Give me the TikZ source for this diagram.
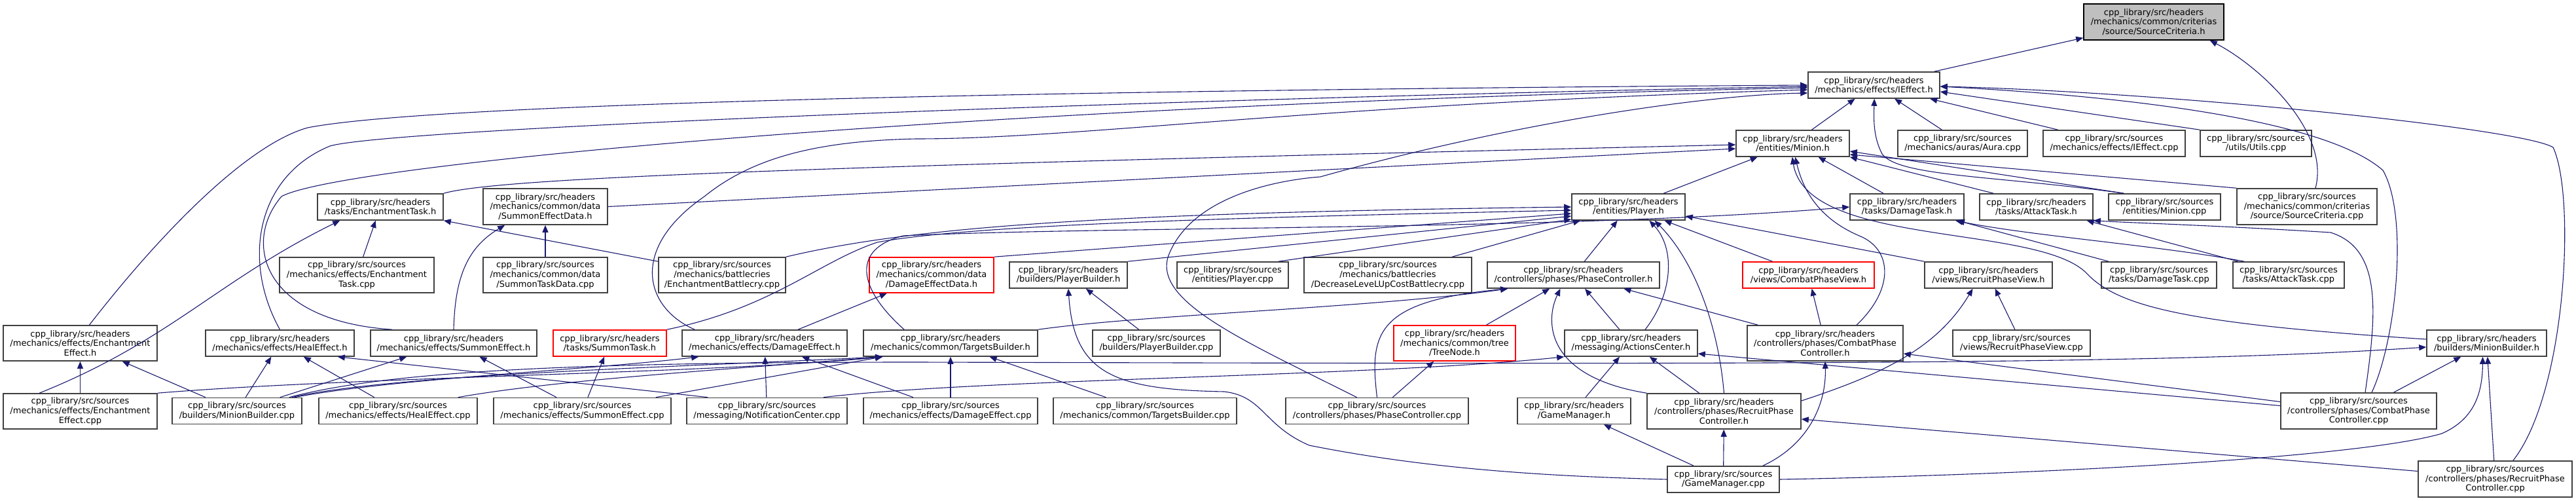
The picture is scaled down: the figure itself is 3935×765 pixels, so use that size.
\documentclass[tikz,border=0pt]{standalone}
\usepackage{fontspec}
\setmainfont{DejaVu Sans}
\usetikzlibrary{arrows.meta}
\definecolor{edgeblue}{HTML}{191970}
\definecolor{rootgray}{HTML}{BFBFBF}
\tikzset{>={Triangle[length=5.5pt,width=4.5pt]},every node/.style={font=\fontsize{6.5}{7.3}\selectfont},
file/.style={draw=black!75,line width=0.8pt,fill=white,align=center,inner sep=1pt,minimum height=20pt},
trunc/.style={file,draw=red},root/.style={file,draw=black,fill=rootgray},
flow/.style={->,draw=edgeblue,line width=0.55pt}}
\begin{document}
\begin{tikzpicture}[x=0.5pt,y=-0.5pt]
\useasboundingbox (0,0) rectangle (3935,765);
\node[root,minimum width=107pt,minimum height=27.5pt] (srcCritH) at (3290,33.5) {cpp\_library/src/headers\\/mechanics/common/criterias\\/source/SourceCriteria.h};
\node[file,minimum width=100.5pt] (iEffectH) at (2862.5,130) {cpp\_library/src/headers\\/mechanics/effects/IEffect.h};
\node[file,minimum width=86.5pt] (minionH) at (2738.5,219) {cpp\_library/src/headers\\/entities/Minion.h};
\node[file,minimum width=99pt] (auraCpp) at (2998,219) {cpp\_library/src/sources\\/mechanics/auras/Aura.cpp};
\node[file,minimum width=108.5pt] (iEffectCpp) at (3229.5,219) {cpp\_library/src/sources\\/mechanics/effects/IEffect.cpp};
\node[file,minimum width=85pt] (utilsCpp) at (3446,219) {cpp\_library/src/sources\\/utils/Utils.cpp};
\node[file,minimum width=96pt] (enchTaskH) at (581,316) {cpp\_library/src/headers\\/tasks/EnchantmentTask.h};
\node[file,minimum width=95pt,minimum height=27.5pt] (summonDataH) at (833,315.5) {cpp\_library/src/headers\\/mechanics/common/data\\/SummonEffectData.h};
\node[file,minimum width=86.5pt] (playerH) at (2487.5,316) {cpp\_library/src/headers\\/entities/Player.h};
\node[file,minimum width=87pt] (damageTaskH) at (2913,316) {cpp\_library/src/headers\\/tasks/DamageTask.h};
\node[file,minimum width=86.5pt] (attackTaskH) at (3110.5,316) {cpp\_library/src/headers\\/tasks/AttackTask.h};
\node[file,minimum width=85.5pt] (minionCpp) at (3306.5,316) {cpp\_library/src/sources\\/entities/Minion.cpp};
\node[file,minimum width=107pt,minimum height=27.5pt] (srcCritCpp) at (3524,315.5) {cpp\_library/src/sources\\/mechanics/common/criterias\\/source/SourceCriteria.cpp};
\node[file,minimum width=118pt,minimum height=27pt] (enchTaskCpp) at (545,420) {cpp\_library/src/sources\\/mechanics/effects/Enchantment\\Task.cpp};
\node[file,minimum width=95pt,minimum height=27pt] (summonDataCpp) at (833,420) {cpp\_library/src/sources\\/mechanics/common/data\\/SummonTaskData.cpp};
\node[file,minimum width=97pt,minimum height=27pt] (enchBattleCpp) at (1103,420) {cpp\_library/src/sources\\/mechanics/battlecries\\/EnchantmentBattlecry.cpp};
\node[trunc,minimum width=95pt,minimum height=27pt] (damageDataH) at (1423,420) {cpp\_library/src/headers\\/mechanics/common/data\\/DamageEffectData.h};
\node[file,minimum width=90pt] (playerBuilderH) at (1632,420) {cpp\_library/src/headers\\/builders/PlayerBuilder.h};
\node[file,minimum width=85pt] (playerCpp) at (1883,420) {cpp\_library/src/sources\\/entities/Player.cpp};
\node[file,minimum width=128pt,minimum height=27pt] (decrBattleCpp) at (2120,420) {cpp\_library/src/sources\\/mechanics/battlecries\\/DecreaseLeveLUpCostBattlecry.cpp};
\node[file,minimum width=131.5pt] (phaseCtrlH) at (2403.5,420) {cpp\_library/src/headers\\/controllers/phases/PhaseController.h};
\node[trunc,minimum width=100.5pt] (combatViewH) at (2762.5,420) {cpp\_library/src/headers\\/views/CombatPhaseView.h};
\node[file,minimum width=97.5pt] (recruitViewH) at (3037.5,420) {cpp\_library/src/headers\\/views/RecruitPhaseView.h};
\node[file,minimum width=88pt] (damageTaskCpp) at (3298,420) {cpp\_library/src/sources\\/tasks/DamageTask.cpp};
\node[file,minimum width=85pt] (attackTaskCpp) at (3496,420) {cpp\_library/src/sources\\/tasks/AttackTask.cpp};
\node[file,minimum width=117.5pt,minimum height=27pt] (enchEffectH) at (122.5,524) {cpp\_library/src/headers\\/mechanics/effects/Enchantment\\Effect.h};
\node[file,minimum width=113.5pt] (healEffectH) at (427.5,524) {cpp\_library/src/headers\\/mechanics/effects/HealEffect.h};
\node[file,minimum width=127pt] (summonEffectH) at (693,524) {cpp\_library/src/headers\\/mechanics/effects/SummonEffect.h};
\node[trunc,minimum width=86.5pt] (summonTaskH) at (931.5,524) {cpp\_library/src/headers\\/tasks/SummonTask.h};
\node[file,minimum width=126pt] (damageEffectH) at (1168,524) {cpp\_library/src/headers\\/mechanics/effects/DamageEffect.h};
\node[file,minimum width=133pt] (targetsH) at (1452,524) {cpp\_library/src/headers\\/mechanics/common/TargetsBuilder.h};
\node[file,minimum width=97.5pt] (playerBuilderCpp) at (1766.5,524) {cpp\_library/src/sources\\/builders/PlayerBuilder.cpp};
\node[trunc,minimum width=93pt,minimum height=27pt] (treeNodeH) at (2222,524) {cpp\_library/src/headers\\/mechanics/common/tree\\/TreeNode.h};
\node[file,minimum width=101.5pt] (actionsH) at (2491.5,524) {cpp\_library/src/headers\\/messaging/ActionsCenter.h};
\node[file,minimum width=119pt,minimum height=27pt] (combatCtrlH) at (2788,524) {cpp\_library/src/headers\\/controllers/phases/CombatPhase\\Controller.h};
\node[file,minimum width=105pt] (recruitViewCpp) at (3088,524) {cpp\_library/src/sources\\/views/RecruitPhaseView.cpp};
\node[file,minimum width=91.5pt] (minionBuilderH) at (3798.5,524) {cpp\_library/src/headers\\/builders/MinionBuilder.h};
\node[file,minimum width=117.5pt,minimum height=27pt] (enchEffectCpp) at (122.5,628) {cpp\_library/src/sources\\/mechanics/effects/Enchantment\\Effect.cpp};
\node[file,minimum width=99pt] (minionBuilderCpp) at (362,627.5) {cpp\_library/src/sources\\/builders/MinionBuilder.cpp};
\node[file,minimum width=121pt] (healEffectCpp) at (608,627.5) {cpp\_library/src/sources\\/mechanics/effects/HealEffect.cpp};
\node[file,minimum width=135.5pt] (summonEffectCpp) at (889.5,627.5) {cpp\_library/src/sources\\/mechanics/effects/SummonEffect.cpp};
\node[file,minimum width=122.5pt] (notifCpp) at (1171.5,627.5) {cpp\_library/src/sources\\/messaging/NotificationCenter.cpp};
\node[file,minimum width=133pt] (damageEffectCpp) at (1452,627.5) {cpp\_library/src/sources\\/mechanics/effects/DamageEffect.cpp};
\node[file,minimum width=140pt] (targetsCpp) at (1749,627.5) {cpp\_library/src/sources\\/mechanics/common/TargetsBuilder.cpp};
\node[file,minimum width=139.5pt] (phaseCtrlCpp) at (2103.5,627.5) {cpp\_library/src/sources\\/controllers/phases/PhaseController.cpp};
\node[file,minimum width=86.5pt] (gameManagerH) at (2404.5,627.5) {cpp\_library/src/headers\\/GameManager.h};
\node[file,minimum width=117.5pt,minimum height=27pt] (recruitCtrlH) at (2633.5,628) {cpp\_library/src/headers\\/controllers/phases/RecruitPhase\\Controller.h};
\node[file,minimum width=119pt,minimum height=27.5pt] (combatCtrlCpp) at (3603,627.5) {cpp\_library/src/sources\\/controllers/phases/CombatPhase\\Controller.cpp};
\node[file,minimum width=85.5pt] (gameManagerCpp) at (2632.5,732) {cpp\_library/src/sources\\/GameManager.cpp};
\node[file,minimum width=117.5pt,minimum height=27.5pt] (recruitCtrlCpp) at (3811.5,731.5) {cpp\_library/src/sources\\/controllers/phases/RecruitPhase\\Controller.cpp};
% SourceCriteria.h and IEffect.h
\draw[flow] (iEffectH) -- (srcCritH);
\draw[flow] ([xshift=6.5pt]srcCritCpp.north) .. controls (3560,200) and (3450,100) .. ([xshift=-11pt]srcCritH.south east);
\draw[flow] (minionH) -- (iEffectH);
\draw[flow] (auraCpp) -- (iEffectH);
\draw[flow] (iEffectCpp) -- (iEffectH);
\draw[flow] (utilsCpp.north west) -- ([yshift=-5pt]iEffectH.east);
\draw[flow] ([xshift=12pt]minionCpp.north west) .. controls (3050,268) and (2900,270) .. (2875,235) .. controls (2862,210) and (2862,185) .. (iEffectH.-88);
\draw[flow] ([xshift=10pt]combatCtrlCpp.north) .. controls (3660,520) and (3680,330) .. (3640,260) .. controls (3560,190) and (3300,150) .. ([yshift=-1pt]iEffectH.east);
\draw[flow] (recruitCtrlCpp.46) .. controls (3920,600) and (3935,300) .. (3900,225) .. controls (3850,195) and (3300,140) .. ([yshift=-1pt]iEffectH.east);
\draw[flow] ([xshift=7pt]enchEffectH.north) .. controls (250,350) and (380,220) .. (470,195) .. controls (700,150) and (2000,135) .. (iEffectH.west);
\draw[flow] (healEffectH.north) .. controls (370,400) and (390,270) .. (504,223) .. controls (600,195) and (1800,150) .. ([yshift=-1pt]iEffectH.west);
\draw[flow] ([xshift=17pt]summonEffectH.north west) .. controls (400,490) and (370,370) .. (430,300) .. controls (520,250) and (1500,160) .. ([yshift=-2pt]iEffectH.west);
\draw[flow] ([xshift=10pt]damageEffectH.north west) .. controls (985,470) and (960,380) .. (1076,300) .. controls (1150,240) and (1250,215) .. (1400,212) .. controls (1650,212) and (2000,160) .. ([yshift=-3.5pt]iEffectH.west);
\draw[flow] ([xshift=-15.5pt]phaseCtrlCpp.north) .. controls (1900,520) and (1760,460) .. (1785,390) .. controls (1820,300) and (1950,275) .. (2017,270) .. controls (2300,190) and (2600,145) .. ([yshift=-6pt]iEffectH.west);
% Minion.h
\draw[flow] (playerH) -- (minionH);
\draw[flow] (enchTaskH.north east) .. controls (760,272) and (1200,255) .. ([yshift=-1pt]minionH.west);
\draw[flow] (summonDataH.east) -- ([yshift=-4pt]minionH.west);
\draw[flow] (damageTaskH.150) -- (minionH.-28);
\draw[flow] ([xshift=11pt]attackTaskH.north west) -- (minionH.south east);
\draw[flow] ([xshift=12pt]minionCpp.north west) -- ([yshift=-6pt]minionH.east);
\draw[flow] (srcCritCpp.north west) -- ([yshift=-8.5pt]minionH.east);
\draw[flow] ([yshift=3pt]minionBuilderH.west) .. controls (3350,495) and (3240,470) .. (3190,420) .. controls (3120,340) and (2760,380) .. (minionH.-92);
\draw[flow] (combatCtrlH.30) .. controls (2895,440) and (2890,380) .. (2840,360) .. controls (2770,330) and (2752,280) .. (minionH.-80);
% Player.h
\draw[flow] (enchBattleCpp.north east) .. controls (1400,345) and (1700,325) .. (playerH.west);
\draw[flow] (summonTaskH.north east) .. controls (1180,470) and (1250,400) .. (1340,370) .. controls (1500,340) and (2000,330) .. ([yshift=-2.5pt]playerH.west);
\draw[flow] (damageDataH.north east) -- ([yshift=-5pt]playerH.west);
\draw[flow] (playerBuilderH.north east) -- ([yshift=-7pt]playerH.west);
\draw[flow] ([xshift=-8pt]playerCpp.north east) -- ([yshift=-9.5pt]playerH.west);
\draw[flow] (decrBattleCpp) -- (playerH);
\draw[flow] (phaseCtrlH) -- (playerH);
\draw[flow] (actionsH.44) .. controls (2555,450) and (2560,380) .. (playerH.-33);
\draw[flow] (recruitCtrlH.north) .. controls (2625,500) and (2590,400) .. ([xshift=20pt]playerH.south);
\draw[flow] (combatViewH) -- (playerH);
\draw[flow] (recruitViewH.north west) -- ([yshift=-7pt]playerH.east);
% DamageTask.h, AttackTask.h
\draw[flow] ([xshift=31.5pt]targetsH.north west) .. controls (1310,440) and (1300,380) .. (1380,360) .. controls (1700,345) and (2400,352) .. (damageTaskH.west);
\draw[flow] (damageTaskCpp) -- (damageTaskH);
\draw[flow] ([xshift=9pt]attackTaskCpp.north west) .. controls (3300,375) and (3100,360) .. ([xshift=37pt]damageTaskH.south);
\draw[flow] (attackTaskCpp) -- (attackTaskH);
\draw[flow] ([xshift=5pt]combatCtrlCpp.north) .. controls (3630,480) and (3640,380) .. (3560,355) .. controls (3400,345) and (3250,340) .. (attackTaskH.south east);
% PhaseController.h and views
\draw[flow] (phaseCtrlCpp.north) .. controls (2092,510) and (2100,460) .. ([xshift=16pt]phaseCtrlH.south west);
\draw[flow] (targetsH.north east) .. controls (1750,480) and (2100,470) .. ([xshift=16pt]phaseCtrlH.south west);
\draw[flow] (treeNodeH) -- (phaseCtrlH);
\draw[flow] (recruitCtrlH.north west) .. controls (2360,575) and (2360,490) .. ([xshift=-10pt]phaseCtrlH.south);
\draw[flow] (actionsH) -- (phaseCtrlH);
\draw[flow] (combatCtrlH) -- (phaseCtrlH);
\draw[flow] (combatCtrlH) -- (combatViewH);
\draw[flow] (recruitViewCpp) -- (recruitViewH);
\draw[flow] ([yshift=8pt]recruitCtrlH.east) .. controls (2880,570) and (2960,530) .. ([xshift=-12pt]recruitViewH.south);
% MinionBuilder.h
\draw[flow] ([xshift=-10pt]minionBuilderCpp.north east) .. controls (600,565) and (900,553) .. (1400,553) .. controls (2600,556) and (3300,558) .. ([yshift=-3pt]minionBuilderH.west);
\draw[flow] (combatCtrlCpp) -- (minionBuilderH);
\draw[flow] (recruitCtrlCpp) -- (minionBuilderH);
\draw[flow] (gameManagerCpp.east) .. controls (3100,725) and (3600,700) .. (3730,662) .. controls (3780,640) and (3792,600) .. ([xshift=-3pt]minionBuilderH.south);
% ActionsCenter.h and controllers
\draw[flow] ([xshift=-18.5pt]notifCpp.north east) .. controls (1500,578) and (2100,575) .. (actionsH.south west);
\draw[flow] (gameManagerH) -- (actionsH);
\draw[flow] (recruitCtrlH) -- (actionsH);
\draw[flow] ([yshift=4pt]combatCtrlCpp.west) -- ([yshift=-8pt]actionsH.east);
\draw[flow] ([yshift=7pt]combatCtrlCpp.west) -- ([yshift=-8pt]combatCtrlH.east);
\draw[flow] ([xshift=-13pt]gameManagerCpp.north east) .. controls (2760,680) and (2790,620) .. (combatCtrlH.south);
\draw[flow] (gameManagerCpp) -- (recruitCtrlH);
\draw[flow] ([yshift=6pt]recruitCtrlCpp.west) -- ([yshift=-6pt]recruitCtrlH.east);
\draw[flow] (gameManagerCpp) -- (gameManagerH);
\draw[flow] (playerBuilderCpp) -- (playerBuilderH);
\draw[flow] (gameManagerCpp.west) .. controls (2400,728) and (2200,720) .. (2000,680) .. controls (1930,650) and (1930,605) .. (1870,598) .. controls (1700,595) and (1640,570) .. (playerBuilderH.south);
% effects and builders
\draw[flow] (damageEffectH) -- (damageDataH);
\draw[flow] (targetsCpp) -- (targetsH);
\draw[flow] (damageEffectCpp) -- (targetsH);
\draw[flow] (enchEffectCpp.north east) .. controls (550,575) and (1100,570) .. ([xshift=15pt]targetsH.south west);
\draw[flow] ([xshift=-8pt]minionBuilderCpp.north east) .. controls (600,572) and (1000,562) .. ([xshift=15pt]targetsH.south west);
\draw[flow] ([xshift=-15pt]healEffectCpp.north east) .. controls (850,580) and (1100,565) .. ([xshift=15pt]targetsH.south west);
\draw[flow] ([xshift=-12pt]summonEffectCpp.north east) -- ([xshift=15pt]targetsH.south west);
\draw[flow] ([xshift=-6pt]minionBuilderCpp.north east) .. controls (600,578) and (900,565) .. ([xshift=13pt]damageEffectH.south west);
\draw[flow] (notifCpp) -- (damageEffectH);
\draw[flow] (damageEffectCpp) -- (damageEffectH);
\draw[flow] ([xshift=16.5pt]notifCpp.north west) -- ([xshift=-13pt]healEffectH.south east);
\draw[flow] (minionBuilderCpp) -- (healEffectH);
\draw[flow] (healEffectCpp) -- (healEffectH);
\draw[flow] ([xshift=-17pt]minionBuilderCpp.north east) -- ([xshift=28pt]summonEffectH.south west);
\draw[flow] (summonEffectCpp) -- (summonEffectH);
\draw[flow] (summonEffectCpp) -- (summonTaskH);
\draw[flow] (enchEffectCpp) -- (enchEffectH);
\draw[flow] (minionBuilderCpp) -- (enchEffectH);
\draw[flow] ([xshift=28pt]enchEffectCpp.north west) .. controls (260,520) and (330,430) .. ([xshift=17.5pt]enchTaskH.south west);
\draw[flow] (enchTaskCpp) -- (enchTaskH);
\draw[flow] ([yshift=-3.5pt]enchBattleCpp.north west) -- (enchTaskH.south east);
\draw[flow] (summonEffectH.north) .. controls (695,430) and (710,380) .. ([xshift=17pt]summonDataH.south west);
\draw[flow] (summonDataCpp) -- (summonDataH);
\draw[flow] (phaseCtrlCpp) -- (treeNodeH);
\end{tikzpicture}
\end{document}
